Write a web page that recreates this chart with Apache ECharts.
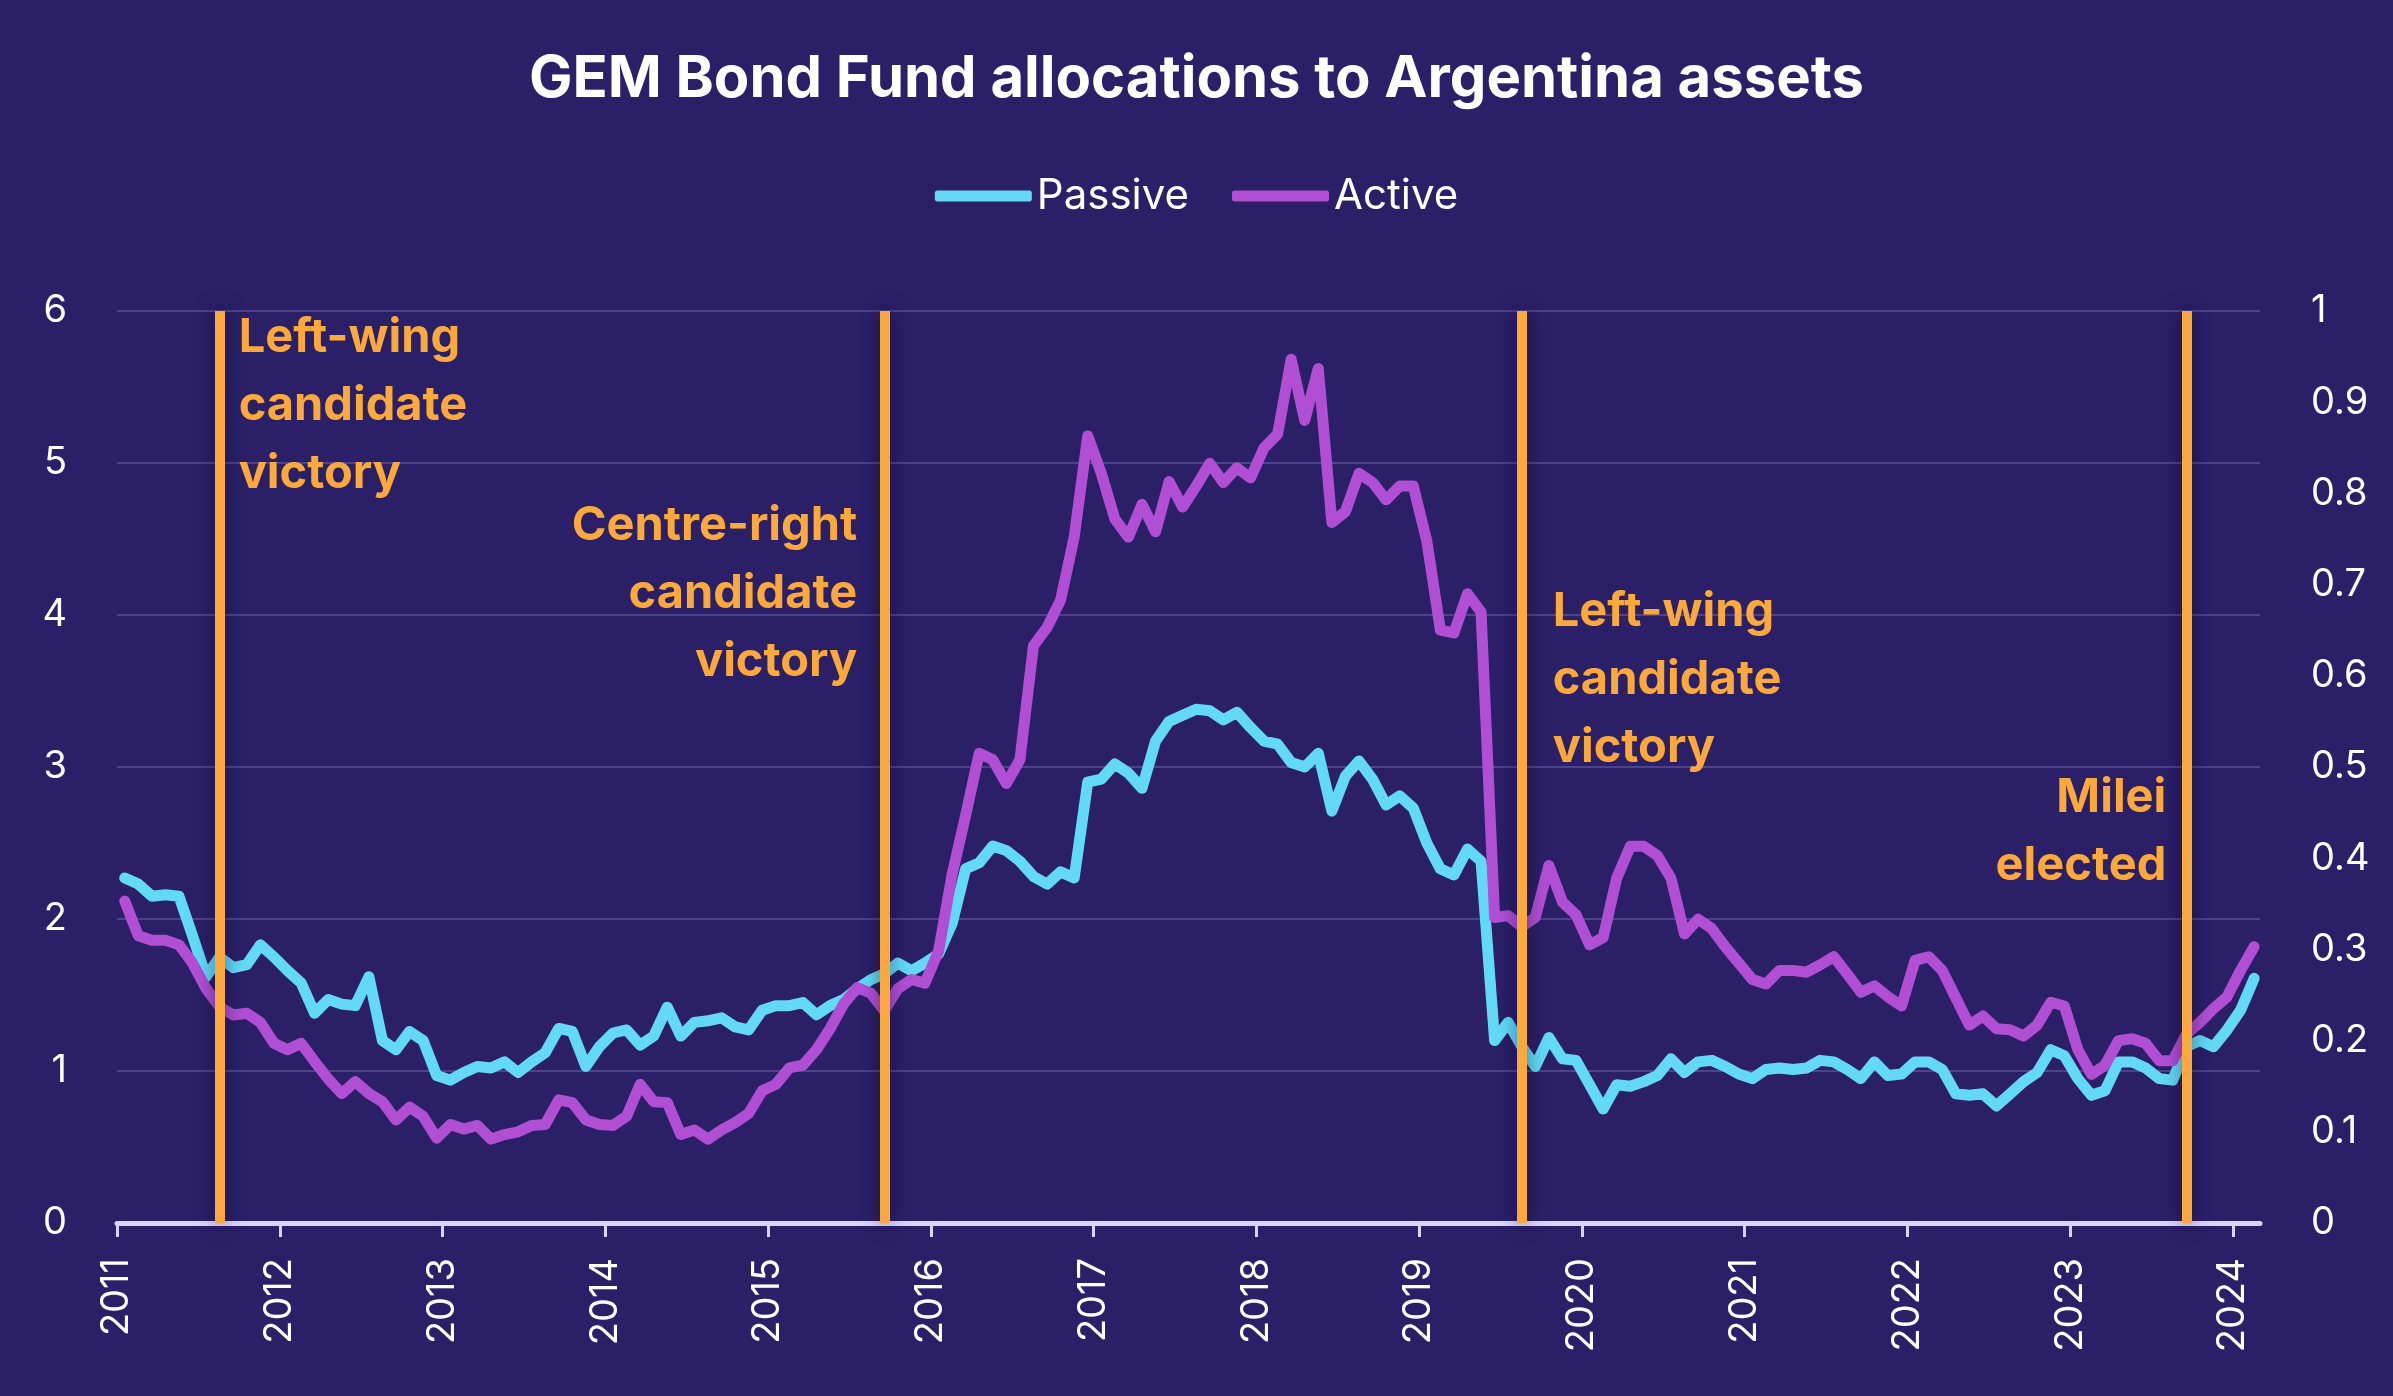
<!DOCTYPE html>
<html>
<head>
<meta charset="utf-8">
<script src="https://cdn.jsdelivr.net/npm/echarts@6/dist/echarts.min.js"></script>
<style>
html,body{margin:0;padding:0;background:#2b1f68;}
#chart{width:2393px;height:1396px;}
</style>
</head>
<body>
<div id="chart"></div>
<script>
// ---------------- DATA ----------------
const firstYear = 2011;
const yearLabels = ['2011','2012','2013','2014','2015','2016','2017','2018','2019','2020','2021','2022','2023','2024'];

// Monthly observations Jan 2011 .. Feb 2024 (158 months)
// Passive: left axis (0-6)
const passive = [
  2.27,2.23,2.15,2.16,2.15,1.89,1.62,1.75,1.68,1.70,1.83,1.75,
  1.66,1.58,1.38,1.47,1.44,1.43,1.62,1.20,1.14,1.26,1.20,0.97,
  0.94,0.99,1.03,1.02,1.06,0.99,1.06,1.12,1.28,1.26,1.03,1.16,
  1.25,1.27,1.17,1.23,1.42,1.23,1.32,1.33,1.35,1.29,1.27,1.40,
  1.43,1.43,1.45,1.37,1.43,1.47,1.54,1.60,1.64,1.71,1.66,1.71,
  1.77,1.97,2.33,2.37,2.48,2.45,2.38,2.28,2.23,2.31,2.27,2.90,
  2.92,3.02,2.96,2.86,3.17,3.30,3.34,3.38,3.37,3.31,3.36,3.26,
  3.17,3.15,3.03,3.00,3.09,2.71,2.94,3.04,2.92,2.75,2.81,2.73,
  2.50,2.33,2.29,2.46,2.38,1.20,1.32,1.16,1.03,1.22,1.08,1.07,
  0.91,0.75,0.91,0.90,0.93,0.97,1.08,0.99,1.06,1.07,1.03,0.98,
  0.95,1.01,1.02,1.01,1.02,1.07,1.06,1.01,0.95,1.06,0.97,0.98,
  1.06,1.06,1.01,0.85,0.84,0.85,0.77,0.85,0.93,0.99,1.14,1.10,
  0.95,0.84,0.87,1.06,1.06,1.02,0.95,0.94,1.16,1.20,1.16,1.27,
  1.40,1.61
];
// Active: right axis (0-1)
const active = [
  0.353,0.315,0.310,0.310,0.305,0.285,0.257,0.237,0.228,0.230,0.220,0.197,
  0.190,0.197,0.177,0.158,0.142,0.155,0.142,0.133,0.113,0.127,0.117,0.093,
  0.108,0.103,0.107,0.092,0.097,0.100,0.107,0.108,0.135,0.132,0.113,0.108,
  0.107,0.117,0.152,0.133,0.132,0.097,0.102,0.092,0.102,0.110,0.120,0.145,
  0.152,0.170,0.173,0.190,0.213,0.240,0.258,0.252,0.233,0.257,0.267,0.263,
  0.298,0.382,0.447,0.515,0.508,0.482,0.508,0.633,0.653,0.683,0.752,0.863,
  0.822,0.772,0.752,0.788,0.758,0.813,0.785,0.808,0.833,0.812,0.828,0.817,
  0.850,0.865,0.947,0.880,0.937,0.768,0.780,0.822,0.812,0.793,0.808,0.808,
  0.748,0.650,0.647,0.690,0.670,0.335,0.337,0.325,0.335,0.392,0.352,0.338,
  0.305,0.313,0.378,0.413,0.413,0.403,0.378,0.317,0.333,0.323,0.303,0.285,
  0.267,0.262,0.277,0.277,0.275,0.283,0.292,0.273,0.253,0.260,0.248,0.238,
  0.288,0.292,0.277,0.247,0.217,0.227,0.213,0.212,0.205,0.217,0.242,0.238,
  0.190,0.163,0.173,0.200,0.202,0.197,0.178,0.178,0.207,0.220,0.235,0.248,
  0.277,0.303
];

// Election events (month of observation) and their annotation texts
const eventMonths = ['2011-08','2015-09','2019-08','2023-09'];
const eventTexts = ['Left-wing\ncandidate\nvictory','Centre-right\ncandidate\nvictory','Left-wing\ncandidate\nvictory','Milei\nelected'];

// ---------------- LAYOUT / STYLE ----------------
const FONT = 'Inter, "Noto Sans", sans-serif';
const BG = '#2b1f68';
const C_PASSIVE = '#63d9f7';
const C_ACTIVE = '#b04fd4';
const C_EVENT = '#fba93c';
const AXIS_C = '#d9d4f7';
const SAMPLE_OFFSET = 0.57;     // observation sits mid-month on the month axis
const AXIS_MONTHS = 158;         // axis spans Jan 2011 .. Mar 2024
// annotation placement: [pixel offset from event line, y (left-axis units), align]
const annoLayout = [
  {dx: 19, y: 5.375, align: 'left'},
  {dx: -27, y: 4.14, align: 'right'},
  {dx: 31, y: 3.57, align: 'left'},
  {dx: -20, y: 2.57, align: 'right'}
];

function monthIdx(s){ const [y,m] = s.split('-').map(Number); return (y-firstYear)*12 + (m-1); }
const xOf = i => i + SAMPLE_OFFSET;
const passiveData = passive.map((v,i)=>[xOf(i), v]);
const activeData = active.map((v,i)=>[xOf(i), v]);
const yearTicks = yearLabels.map((y,i)=>i*12);

const chart = echarts.init(document.getElementById('chart'), null, {renderer:'canvas'});
const option = {
  backgroundColor: BG,
  animation: false,
  textStyle: {fontFamily: FONT},
  title: {
    text: 'GEM Bond Fund allocations to Argentina assets',
    left: 'center', top: 46,
    textStyle: {color:'#ffffff', fontSize: 58, fontWeight: 'bold', fontFamily: FONT}
  },
  legend: {
    top: 170, left: 'center',
    icon: 'roundRect', itemWidth: 97, itemHeight: 11, itemGap: 43,
    textStyle: {color:'#ffffff', fontSize: 42, fontFamily: FONT},
    data: ['Passive','Active']
  },
  grid: {left: 117, right: 133, top: 311, bottom: 173, containLabel: false, outerBoundsMode: 'none'},
  xAxis: {
    type: 'value', min: 0, max: AXIS_MONTHS, interval: 12,
    axisLine: {show: true, onZero: false, lineStyle: {color: AXIS_C, width: 5}},
    axisTick: {show: true, length: 14, lineStyle: {color: AXIS_C, width: 3}, customValues: yearTicks},
    axisLabel: {
      customValues: yearTicks,
      rotate: 90, margin: 35, color: '#ffffff', fontSize: 38, fontFamily: FONT,
      formatter: v => (v % 12 === 0 && v/12 < yearLabels.length) ? yearLabels[v/12] : ''
    },
    splitLine: {show: false}
  },
  yAxis: [
    {
      type: 'value', min: 0, max: 6, interval: 1, position: 'left',
      axisLine: {show: false}, axisTick: {show: false},
      axisLabel: {color: '#ffffff', fontSize: 38, margin: 50, fontFamily: FONT},
      splitLine: {show: true, lineStyle: {color: '#4d4389', width: 2}}
    },
    {
      type: 'value', min: 0, max: 1, interval: 0.1, position: 'right',
      axisLine: {show: false}, axisTick: {show: false},
      axisLabel: {color: '#ffffff', fontSize: 38, margin: 51, fontFamily: FONT},
      splitLine: {show: false}
    }
  ],
  series: [
    {
      name: 'Passive', type: 'line', yAxisIndex: 0, data: passiveData,
      showSymbol: false, symbol: 'none', z: 2,
      lineStyle: {color: C_PASSIVE, width: 11, join: 'round', cap: 'round'},
      itemStyle: {color: C_PASSIVE},
      markPoint: {
        symbol: 'circle', symbolSize: 1, silent: true,
        itemStyle: {color: 'rgba(0,0,0,0)'},
        data: eventMonths.map((m,i)=>({
          coord: [xOf(monthIdx(m)), annoLayout[i].y],
          value: eventTexts[i],
          label: {
            show: true, position: 'inside',
            formatter: eventTexts[i],
            align: annoLayout[i].align, verticalAlign: 'middle',
            offset: [annoLayout[i].dx, 0],
            color: C_EVENT, fontSize: 47, fontWeight: 'bold', lineHeight: 68, fontFamily: FONT
          }
        }))
      }
    },
    {
      name: 'Active', type: 'line', yAxisIndex: 1, data: activeData,
      showSymbol: false, symbol: 'none', z: 3,
      lineStyle: {color: C_ACTIVE, width: 11, join: 'round', cap: 'round'},
      itemStyle: {color: C_ACTIVE},
      markLine: {
        silent: true, symbol: ['none','none'],
        label: {show: false},
        lineStyle: {color: C_EVENT, width: 10, type: 'solid', shadowColor: 'rgba(10,4,40,0.55)', shadowBlur: 18},
        emphasis: {disabled: true},
        data: eventMonths.map(m=>({xAxis: xOf(monthIdx(m))}))
      }
    }
  ]
};
chart.setOption(option);
</script>
</body>
</html>
